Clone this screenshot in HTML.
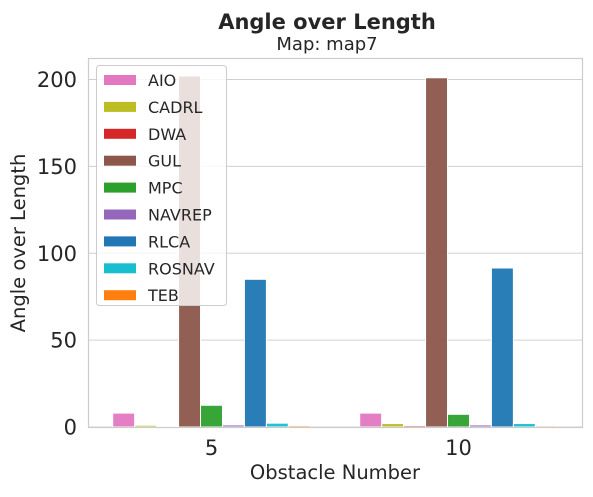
<!DOCTYPE html>
<html><head><meta charset="utf-8"><style>
body{margin:0;background:#fff;}
svg text{font-family:"DejaVu Sans","Liberation Sans",sans-serif;fill:#262626;}
</style></head><body>
<svg id="chart" width="593" height="492" xmlns="http://www.w3.org/2000/svg">
<text x="327" y="29" font-size="21" font-weight="bold" text-anchor="middle">Angle over Length</text>
<text x="327" y="50" font-size="18" text-anchor="middle">Map: map7</text>
<g id="grid"></g>
<g id="bars"></g>
<rect x="88.5" y="58.5" width="494" height="369" fill="none" stroke="#cccccc" stroke-width="1.2"/>
<g id="axes"></g>
<text x="335" y="479" font-size="19.5" text-anchor="middle">Obstacle Number</text>
<text transform="translate(25,243) rotate(-90)" font-size="19.5" text-anchor="middle">Angle over Length</text>
<g id="legend"></g>
</svg>
<script>
const categories=["5","10"];
const methods=["AIO","CADRL","DWA","GUL","MPC","NAVREP","RLCA","ROSNAV","TEB"];
const colors=["#e377c2","#bcbd22","#d62728","#8c564b","#2ca02c","#9467bd","#1f77b4","#17becf","#ff7f0e"];
const values5=[8,1,0.5,202,12.5,1.2,85,2.2,0.8];
const values10=[8,2,0.8,201,7.3,1.2,91.5,2,0.7];
const yTicks=[0,50,100,150,200];
const series=[values5,values10];
const NS="http://www.w3.org/2000/svg";
const L=88,R=582,Y0=427,PPU=1.7375;
const y=v=>Y0-v*PPU;
const groupW=(R-L)/2;
const xc=i=>L+groupW*(i+0.5);
const bw=groupW*0.8/methods.length;
function mk(tag,attrs,parent){const e=document.createElementNS(NS,tag);for(const k in attrs)e.setAttribute(k,attrs[k]);parent.appendChild(e);return e;}
const grid=document.getElementById('grid'),axes=document.getElementById('axes');
yTicks.forEach(t=>{
 const l=mk('line',{x1:L,x2:R,y1:y(t),y2:y(t),stroke:'#d0d0d0','stroke-width':1},grid);
 
 
 const tx=mk('text',{x:77,y:y(t)+7.5,'font-size':21,'text-anchor':'end'},axes);
 tx.textContent=t;
 
 
});
categories.forEach((c,i)=>{
 const tx=mk('text',{x:xc(i),y:455,'font-size':21,'text-anchor':'middle'},axes);
 tx.textContent=c;
 
 
});
const bars=document.getElementById('bars');
categories.forEach((c,i)=>{
 const start=xc(i)-groupW*0.4;
 methods.forEach((m,j)=>{
  const v=series[i][j];
  const r=mk('rect',{x:start+j*bw,y:y(v),width:bw,height:Y0-y(v),fill:colors[j],stroke:'#ffffff','stroke-width':1,'fill-opacity':0.95},bars);
  
  
 });
});
const lg=document.getElementById('legend');
const box=mk('rect',{x:96.5,y:65.5,width:130,height:240,rx:3,fill:'#ffffff','fill-opacity':0.8,stroke:'#cccccc'},lg);


methods.forEach((m,j)=>{
 const yy=80+j*26.9;
 const s=mk('rect',{x:104,y:yy-5,width:32,height:10,fill:colors[j]},lg);
 
 
 const t=mk('text',{x:148,y:yy+6,'font-size':16,'textLength':m.length*9.3>70?70:null},lg);
 if(!(m.length*9.3>70))t.removeAttribute('textLength');
 t.textContent=m;
 
 
});
</script>
</body></html>
